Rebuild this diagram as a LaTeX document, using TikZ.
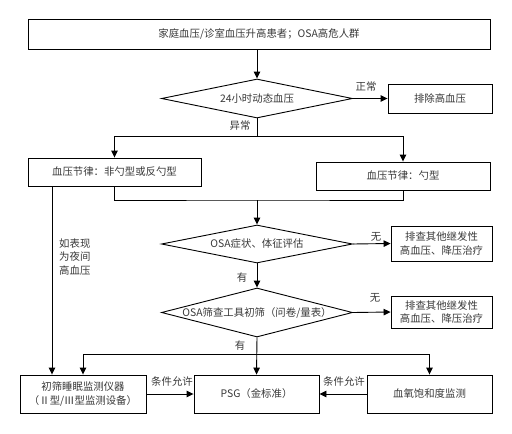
\documentclass[tikz,border=0pt]{standalone}
\usepackage{fontspec}
\usepackage{xcolor}
\usepackage{tikz}
\newfontfamily\cjk{Noto Sans CJK SC}
\usetikzlibrary{shapes,arrows,positioning,calc,arrows.meta}

\tikzset{
    flowbox/.style={draw, line width=0.9pt, inner sep=2pt, align=center},
    decision/.style={draw, diamond, line width=0.9pt, inner sep=0pt, aspect=4},
    flowarrow/.style={line width=0.9pt, -{Triangle[length=7pt,width=6.5pt]}},
    flowline/.style={line width=0.9pt},
    tag/.style={inner sep=0pt, align=left}
}

\begin{document}
\begin{tikzpicture}[x=1pt, y=-1pt, font=\cjk\fontsize{10.4}{13.5}\selectfont, text=black!78]
    \useasboundingbox (0,0) rectangle (512,434);

    % Boxes
    \node[flowbox, minimum width=462pt, minimum height=30pt] (start) at (259,34) {家庭血压/诊室血压升高患者；OSA高危人群};
    \node[flowbox, minimum width=104pt, minimum height=29pt] (exclude) at (440,98.5) {排除高血压};
    \node[flowbox, minimum width=173pt, minimum height=28pt] (nondip) at (114.5,172) {血压节律：非勺型或反勺型};
    \node[flowbox, minimum width=174pt, minimum height=28pt] (dip) at (403,176) {血压节律：勺型};
    \node[flowbox, minimum width=101pt, minimum height=35pt] (other1) at (441.5,243.5) {排查其他继发性\\高血压、降压治疗};
    \node[flowbox, minimum width=101pt, minimum height=32pt] (other2) at (441.5,312) {排查其他继发性\\高血压、降压治疗};
    \node[flowbox, minimum width=126pt, minimum height=38pt] (device) at (83,394) {初筛睡眠监测仪器\\（Ⅱ型/Ⅲ型监测设备）};
    \node[flowbox, minimum width=125pt, minimum height=38pt] (psg) at (256.5,394) {PSG（金标准）};
    \node[flowbox, minimum width=125pt, minimum height=38pt] (oxim) at (429.5,394) {血氧饱和度监测};

    % Decisions
    \node[decision, minimum width=191pt, minimum height=39pt, label={center:24小时动态血压}] (abpm) at (257,98.5) {};
    \node[decision, minimum width=191pt, minimum height=38pt, label={center:OSA症状、体征评估}] (symp) at (257,244) {};
    \node[decision, minimum width=191pt, minimum height=49pt, label={center:OSA筛查工具初筛（问卷/量表）}] (screen) at (257,312.5) {};

    % Branch points
    \coordinate (split1) at (257,136);
    \coordinate (merge1) at (257,200);
    \coordinate (night) at (52,186);
    \coordinate (split2) at (257,354);

    % Connectors
    \draw[flowarrow] (start.south -| abpm.north) -- (abpm.north);
    \draw[flowarrow] (abpm.east) -- (exclude.west);
    \draw[flowline] (abpm.south) -- (split1);
    \draw[flowarrow] (split1) -| (nondip.north);
    \draw[flowarrow] (split1) -| (dip.north);
    \draw[flowline] (nondip.south) |- (merge1) -| (dip.south);
    \draw[flowarrow] (merge1) -- (symp.north);
    \draw[flowarrow] (night) -- (night |- device.north);
    \draw[flowarrow] (symp.east) -- (other1.west);
    \draw[flowarrow] (symp.south) -- (screen.north);
    \draw[flowarrow] (screen.east) -- (other2.west);
    \draw[flowarrow] (screen.south) -- (psg.north);
    \draw[flowarrow] (split2) -| (device.north);
    \draw[flowarrow] (split2) -| (oxim.north);
    \draw[flowarrow] (device.east) -- (psg.west);
    \draw[flowarrow] (oxim.west) -- (psg.east);

    % Labels
    \node[tag] (normal) at (366,87) {正常};
    \node[tag] (abnormal) at (240,126) {异常};
    \node[tag] (none1) at (376,237) {无};
    \node[tag] (none2) at (375,298) {无};
    \node[tag] (yes1) at (242,278) {有};
    \node[tag] (yes2) at (240,346) {有};
    \node[tag] (cond1) at (172,382) {条件允许};
    \node[tag] (cond2) at (344,382) {条件允许};
    \node[tag, anchor=west] (nightbp) at (59,257) {如表现\\为夜间\\高血压};
\end{tikzpicture}
\end{document}
